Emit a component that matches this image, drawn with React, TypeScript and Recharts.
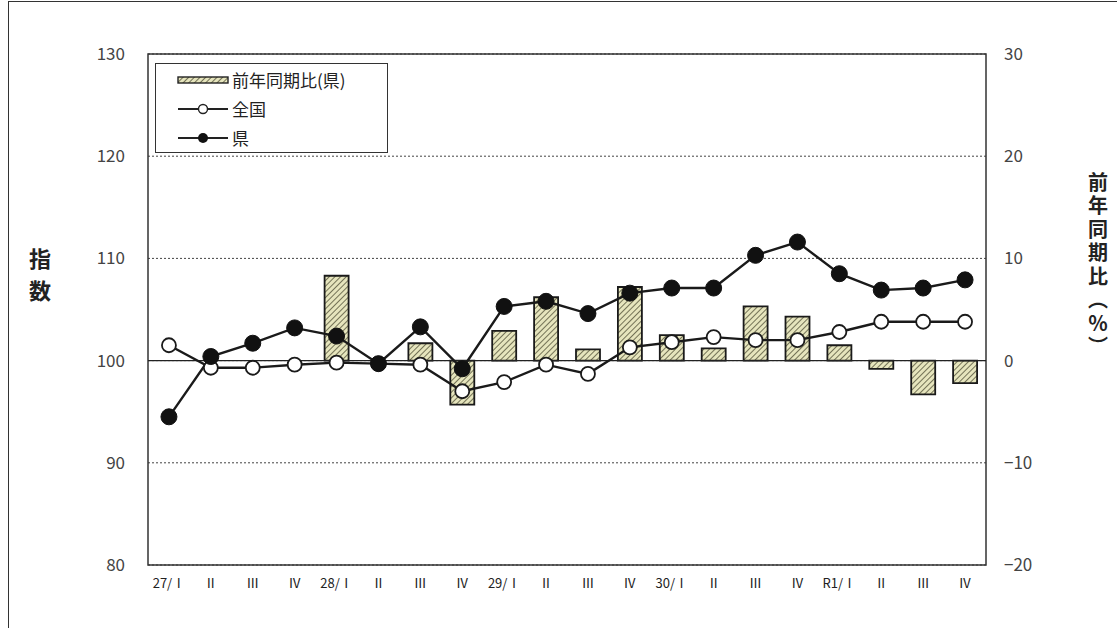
import React from "react";
import {
  Bar,
  CartesianGrid,
  ComposedChart,
  Line,
  ReferenceArea,
  ReferenceLine,
  XAxis,
  YAxis
} from "recharts";

const quarters = [
  "27/Ⅰ", "Ⅱ", "Ⅲ", "Ⅳ",
  "28/Ⅰ", "Ⅱ", "Ⅲ", "Ⅳ",
  "29/Ⅰ", "Ⅱ", "Ⅲ", "Ⅳ",
  "30/Ⅰ", "Ⅱ", "Ⅲ", "Ⅳ",
  "R1/Ⅰ", "Ⅱ", "Ⅲ", "Ⅳ"
];
const zenkoku = [101.5, 99.3, 99.3, 99.6, 99.8, 99.7, 99.6, 97.0, 97.9, 99.6, 98.7, 101.3, 101.8, 102.3, 102.0, 102.0, 102.8, 103.8, 103.8, 103.8];
const ken = [94.5, 100.4, 101.7, 103.2, 102.4, 99.7, 103.3, 99.2, 105.3, 105.8, 104.6, 106.6, 107.1, 107.1, 110.3, 111.6, 108.5, 106.9, 107.1, 107.9];
const kenYoy = [null, null, null, null, 8.3, 0, 1.7, -4.3, 2.9, 6.2, 1.1, 7.2, 2.5, 1.2, 5.3, 4.3, 1.5, -0.8, -3.3, -2.2];

const leftTicks = [80, 90, 100, 110, 120, 130];
const rightTicks = [-20, -10, 0, 10, 20, 30];

const data = quarters.map((q, i) => ({
  q,
  zenkoku: zenkoku[i],
  ken: ken[i],
  yoy: kenYoy[i]
}));

const FONT = "'Noto Sans CJK JP', 'Noto Sans', sans-serif";

// vertical axis titles, written top-to-bottom
const LeftTitle = ({ viewBox }: any) => (
  <text
    x={viewBox.x - 48}
    y={248}
    fontFamily={FONT}
    fontSize={22}
    fontWeight={700}
    fill="#222"
    letterSpacing={10}
    style={{ writingMode: "vertical-rl" } as any}
  >
    指数
  </text>
);

const RightTitle = ({ viewBox }: any) => (
  <text
    x={viewBox.x + 112}
    y={172}
    fontFamily={FONT}
    fontSize={20}
    fontWeight={700}
    fill="#222"
    letterSpacing={3.5}
    style={{ writingMode: "vertical-rl" } as any}
  >
    前年同期比（％）
  </text>
);

const LegendBox = () => (
  <div
    style={{
      position: "absolute",
      left: 155,
      top: 63,
      width: 233,
      height: 90,
      border: "1.5px solid #333",
      background: "#fff",
      boxSizing: "border-box"
    }}
  >
    <svg width={230} height={87} style={{ display: "block" }}>
      <rect x={22} y={13} width={50} height={6} fill="url(#hatch)" stroke="#222" strokeWidth={1.4} />
      <text x={76} y={23} fontSize={17} fontFamily={FONT} fill="#222">前年同期比(県)</text>
      <line x1={22} x2={72} y1={45} y2={45} stroke="#222" strokeWidth={1.8} />
      <circle cx={47} cy={45} r={4.5} fill="#fff" stroke="#222" strokeWidth={1.4} />
      <text x={76} y={52} fontSize={17} fontFamily={FONT} fill="#222">全国</text>
      <line x1={22} x2={72} y1={74} y2={74} stroke="#222" strokeWidth={1.8} />
      <circle cx={47} cy={74} r={5} fill="#111" />
      <text x={76} y={81} fontSize={17} fontFamily={FONT} fill="#222">県</text>
    </svg>
  </div>
);

export default function App() {
  return (
    <div style={{ position: "absolute", left: 0, top: 0, width: 1117, height: 628, background: "#fff" }}>
      <svg width={0} height={0} style={{ position: "absolute" }}>
        <defs>
          <pattern id="hatch" patternUnits="userSpaceOnUse" width={4} height={4} patternTransform="rotate(45)">
            <rect width={4} height={4} fill="#e6e5bd" />
            <line x1={0} y1={0} x2={0} y2={4} stroke="#55553c" strokeWidth={1.6} />
          </pattern>
        </defs>
      </svg>
      <div
        style={{
          position: "absolute",
          left: 8,
          top: 1,
          width: 1109,
          height: 627,
          borderLeft: "1.5px solid #333",
          borderTop: "1.5px solid #333",
          boxSizing: "border-box"
        }}
      />
      <div style={{ position: "absolute", left: 0, top: 0 }}>
        <ComposedChart
          width={1117}
          height={628}
          data={data}
          margin={{ top: 54, right: 71, bottom: 33, left: 88 }}
        >
          <CartesianGrid
            yAxisId="left"
            vertical={false}
            stroke="#444"
            strokeDasharray="2 2"
          />
          <XAxis
            dataKey="q"
            interval={0}
            tickLine={false}
            axisLine={false}
            height={30}
            tickMargin={8}
            tick={{ fontSize: 13, fill: "#222", fontFamily: FONT }}
          />
          <YAxis
            yAxisId="left"
            width={60}
            domain={[80, 130]}
            ticks={leftTicks}
            tickLine={false}
            axisLine={false}
            tickSize={0}
            tickMargin={23}
            tick={{ fontSize: 17, fill: "#444", fontFamily: FONT }}
            label={<LeftTitle />}
          />
          <YAxis
            yAxisId="right"
            orientation="right"
            width={60}
            domain={[-20, 30]}
            ticks={rightTicks}
            tickLine={false}
            axisLine={false}
            tickSize={0}
            tickMargin={18}
            tick={{ fontSize: 17, fill: "#444", fontFamily: FONT, textAnchor: "start" }}
            tickFormatter={(v: number) => (v < 0 ? `−${Math.abs(v)}` : `${v}`)}
            label={<RightTitle />}
          />
          <ReferenceLine yAxisId="left" y={100} stroke="#222" strokeWidth={1.3} />
          <ReferenceArea
            yAxisId="left"
            y1={80}
            y2={130}
            fill="none"
            fillOpacity={0}
            stroke="#333"
            strokeWidth={1.5}
          />
          <Bar
            yAxisId="right"
            dataKey="yoy"
            barSize={24}
            fill="url(#hatch)"
            stroke="#1a1a1a"
            strokeWidth={1.8}
            isAnimationActive={false}
          />
          <Line
            yAxisId="left"
            dataKey="zenkoku"
            stroke="#1a1a1a"
            strokeWidth={2.4}
            dot={{ r: 7, fill: "#fff", stroke: "#1a1a1a", strokeWidth: 1.8 }}
            isAnimationActive={false}
          />
          <Line
            yAxisId="left"
            dataKey="ken"
            stroke="#1a1a1a"
            strokeWidth={2.4}
            dot={{ r: 8, fill: "#111", stroke: "#111", strokeWidth: 1 }}
            isAnimationActive={false}
          />
        </ComposedChart>
      </div>
      <LegendBox />
    </div>
  );
}
